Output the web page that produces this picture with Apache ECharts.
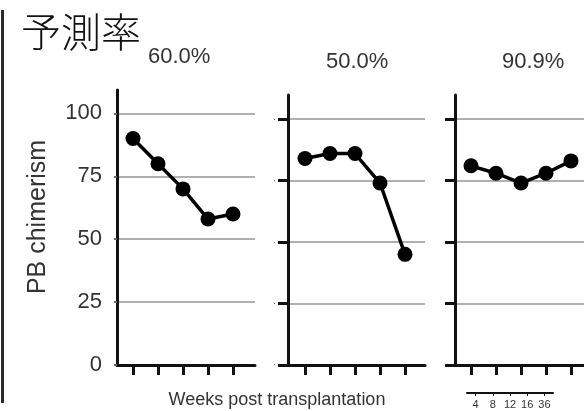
<!DOCTYPE html>
<html>
<head>
<meta charset="utf-8">
<script src="https://cdn.jsdelivr.net/npm/echarts@6/dist/echarts.min.js"></script>
<style>
  html, body { margin: 0; padding: 0; background: #fff; }
  #chart { width: 584px; height: 411px; }
</style>
</head>
<body>
<div id="chart"></div>
<script>
// Weeks after transplantation (shared x categories)
var weeks = ['4', '8', '12', '16', '36'];
// PB chimerism (%) per panel
var panelA = [90, 80, 70, 58, 60];
var panelB = [84, 86, 86, 74, 45];
var panelC = [81, 78, 74, 78, 83];
// Prediction rate shown above each panel
var rates = ['60.0%', '50.0%', '90.9%'];
// y-axis tick values
var yTicks = [0, 25, 50, 75, 100];

var FONT = '"Liberation Sans", Arial, sans-serif';
var tickPos = weeks.map(function (w, i) { return i + 1; });
function toPoints(vals) { return vals.map(function (v, i) { return [i + 1, v]; }); }

var chart = echarts.init(document.getElementById('chart'), null, { renderer: 'canvas' });

function xAxisFor(gridIndex, min, max) {
  return {
    gridIndex: gridIndex, type: 'value', min: min, max: max,
    axisLine: { show: true, onZero: false, lineStyle: { color: '#111', width: 3 } },
    axisTick: { show: true, customValues: tickPos, length: 10, lineStyle: { color: '#111', width: 3 } },
    axisLabel: { show: false },
    splitLine: { show: false }
  };
}
function yAxisFor(gridIndex, max, first) {
  return {
    gridIndex: gridIndex, type: 'value', min: 0, max: max,
    axisLine: { show: true, lineStyle: { color: '#111', width: 3 } },
    axisTick: {
      show: true, customValues: yTicks,
      length: first ? 3 : 10,
      lineStyle: { color: first ? '#666' : '#111', width: first ? 2 : 3 }
    },
    axisLabel: first
      ? { show: true, customValues: yTicks, fontSize: 22, color: '#333', fontFamily: FONT, margin: 15 }
      : { show: gridIndex === 1, customValues: yTicks, formatter: function () { return '·'; }, fontSize: 9, color: '#555', margin: 12 },
    splitLine: { show: true, lineStyle: { color: '#b0b0b0', width: 2 } }
  };
}
function lineSeries(idx, vals) {
  return {
    type: 'line', xAxisIndex: idx, yAxisIndex: idx, data: toPoints(vals),
    symbol: 'circle', symbolSize: 15,
    itemStyle: { color: '#000' },
    lineStyle: { color: '#000', width: 3.5 },
    z: 5
  };
}

var option = {
  animation: false,
  backgroundColor: '#fff',
  title: [
    { text: '予測率', left: 21, top: 12, padding: 0,
      textStyle: { fontFamily: '"Noto Sans CJK JP", sans-serif', fontSize: 40, fontWeight: 300, color: '#111' } },
    { text: rates[0], left: 148, top: 46, padding: 0,
      textStyle: { fontFamily: FONT, fontSize: 22, fontWeight: 'normal', color: '#333' } },
    { text: rates[1], left: 326, top: 51, padding: 0,
      textStyle: { fontFamily: FONT, fontSize: 22, fontWeight: 'normal', color: '#333' } },
    { text: rates[2], left: 502, top: 51, padding: 0,
      textStyle: { fontFamily: FONT, fontSize: 22, fontWeight: 'normal', color: '#333' } }
  ],
  grid: [
    { left: 117, right: 329, top: 90, bottom: 46 },
    { left: 288, right: 159, top: 95, bottom: 46 },
    { left: 455, right: 0, top: 95, bottom: 46 },
    { left: 467, width: 86, top: 392, height: 1 }
  ],
  xAxis: [
    xAxisFor(0, 0.36, 5.88),
    xAxisFor(1, 0.32, 5.8),
    xAxisFor(2, 0.36, 5.52),
    {
      gridIndex: 3, type: 'category', data: weeks, boundaryGap: true,
      axisLine: { show: true, lineStyle: { color: '#111', width: 2 } },
      axisTick: { show: true, alignWithLabel: true, length: 3, lineStyle: { color: '#111', width: 1 } },
      axisLabel: { fontSize: 11, color: '#333', fontFamily: FONT, margin: 6 }
    }
  ],
  yAxis: [
    yAxisFor(0, 109.3, true),
    yAxisFor(1, 109.8, false),
    yAxisFor(2, 109.8, false),
    { gridIndex: 3, type: 'value', show: false }
  ],
  series: [
    lineSeries(0, panelA),
    lineSeries(1, panelB),
    lineSeries(2, panelC)
  ],
  graphic: [
    { type: 'rect', shape: { x: 1, y: 10, width: 3, height: 393 }, style: { fill: '#2a2a2a' } },
    { type: 'text', x: 38, y: 217, rotation: Math.PI / 2,
      style: { text: 'PB chimerism', font: '25px ' + FONT, fill: '#333', textAlign: 'center', textVerticalAlign: 'middle' } },
    { type: 'text', x: 277, y: 400,
      style: { text: 'Weeks post transplantation', font: '18px ' + FONT, fill: '#333', textAlign: 'center', textVerticalAlign: 'middle' } }
  ]
};
chart.setOption(option);
</script>
</body>
</html>
